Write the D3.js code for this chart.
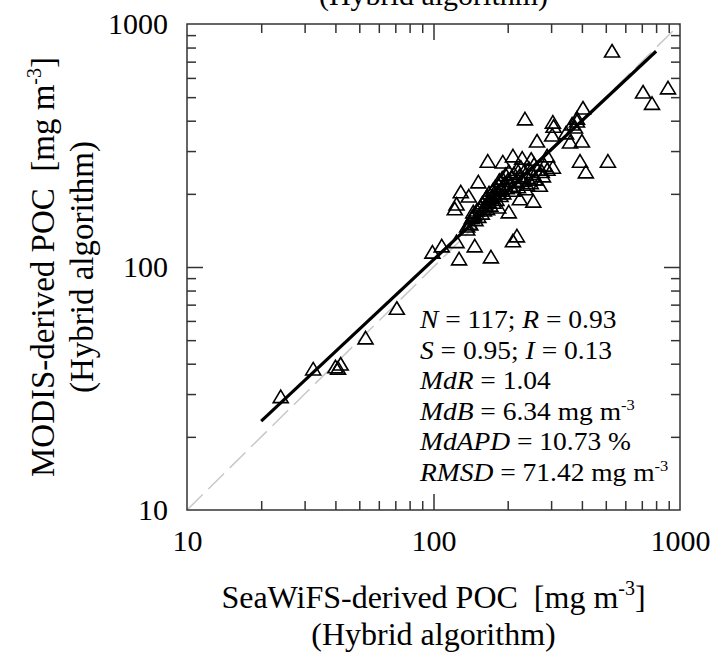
<!DOCTYPE html>
<html>
<head>
<meta charset="utf-8">
<script src="https://cdn.jsdelivr.net/npm/d3@7"></script>
<style>
  body { margin: 0; background: #fff; }
  svg { display: block; font-family: "Liberation Serif", "Times New Roman", serif; }
</style>
</head>
<body>
<svg id="chart" width="717" height="653"></svg>
<script>
// SeaWiFS (x) vs MODIS (y) POC, mg m^-3
const seawifs = [
  24, 32.5, 40, 42, 41, 53, 71,
  99, 108, 124, 147, 127, 171, 166, 152, 129, 139, 124, 122, 165, 137, 145, 145, 141, 137,
  235, 305, 307, 382, 404, 375, 263, 303, 358, 400, 345, 393, 415, 510, 770, 530, 708, 894, 382, 365,
  191, 210, 229, 249, 289, 305, 278, 258, 239, 224, 254, 202, 183, 218, 210,
  140, 143, 146, 148, 150, 152, 155, 157, 158, 160, 162, 163, 165, 167, 168, 170, 172, 174, 175,
  177, 178, 180, 182, 184, 185, 187, 189, 190, 192, 194, 196, 198, 200, 202, 205, 207, 210, 212,
  215, 218, 220, 223, 226, 230, 233, 236, 240, 244, 248, 252, 256, 260, 265, 270, 275, 282, 290
];
const modis = [
  29, 37.7, 38.5, 39.5, 38, 50.6, 67,
  114, 121, 126, 121, 107, 109, 270, 222, 202, 194, 180, 172, 194, 146, 167, 161, 149, 142,
  403, 391, 376, 395, 447, 373, 327, 346, 324, 327, 353, 270, 244, 270, 467, 767, 520, 541, 406, 384,
  268, 284, 278, 275, 284, 255, 235, 228, 217, 189, 185, 167, 175, 133, 127,
  150, 158, 163, 155, 170, 160, 175, 165, 182, 170, 178, 190, 172, 185, 200, 178, 192, 205, 183,
  196, 212, 188, 200, 215, 225, 195, 208, 230, 200, 218, 238, 210, 225, 245, 215, 232, 205, 240,
  222, 250, 212, 235, 255, 225, 245, 208, 232, 252, 220, 240, 262, 228, 250, 215, 245, 260, 250
];

// regression: log10(y) = I + S * log10(x)
const fitSlope = 0.95;
const fitIntercept = 0.13;
const fitRange = [20, 800];

const majorTicks = [10, 100, 1000];
const minorTicks = [20, 30, 40, 50, 60, 70, 80, 90, 200, 300, 400, 500, 600, 700, 800, 900];

const statLines = [
  [["N", true], [" = 117; ", false], ["R", true], [" = 0.93", false]],
  [["S", true], [" = 0.95; ", false], ["I", true], [" = 0.13", false]],
  [["MdR", true], [" = 1.04", false]],
  [["MdB", true], [" = 6.34 mg m", false], ["-3", "sup"]],
  [["MdAPD", true], [" = 10.73 %", false]],
  [["RMSD", true], [" = 71.42 mg m", false], ["-3", "sup"]]
];

const plotL = 187, plotR = 680, plotT = 24, plotB = 510;
const svg = d3.select("#chart");

const x = d3.scaleLog().domain([10, 1000]).range([plotL, plotR]);
const y = d3.scaleLog().domain([10, 1000]).range([plotB, plotT]);

// 1:1 line
svg.append("line")
    .attr("x1", x(10)).attr("y1", y(10))
    .attr("x2", x(1000)).attr("y2", y(1000))
    .attr("stroke", "#c8c8c8")
    .attr("stroke-width", 1.5)
    .attr("stroke-dasharray", "22,8");

// regression line
const fit = v => Math.pow(10, fitIntercept) * Math.pow(v, fitSlope);
svg.append("line")
    .attr("x1", x(fitRange[0])).attr("y1", y(fit(fitRange[0])))
    .attr("x2", x(fitRange[1])).attr("y2", y(fit(fitRange[1])))
    .attr("stroke", "#000")
    .attr("stroke-width", 3.2);

// points
const tri = "M0,-7.5L7.5,5L-7.5,5Z";
svg.append("g").selectAll("path")
    .data(seawifs.map((d, i) => [d, modis[i]]))
    .join("path")
    .attr("d", tri)
    .attr("transform", d => `translate(${x(d[0])},${y(d[1])})`)
    .attr("fill", "none")
    .attr("stroke", "#000")
    .attr("stroke-width", 1.6);

// inward ticks on all four sides
function ticks(axisFn, scale, pos, vals, len) {
    svg.append("g")
        .attr("transform", pos)
        .call(axisFn(scale).tickValues(vals).tickSize(len).tickFormat(""))
        .call(g => g.select(".domain").remove())
        .call(g => g.selectAll("line").attr("stroke", "#333").attr("stroke-width", 1.5));
}
ticks(d3.axisBottom, x, `translate(0,${plotB})`, minorTicks, -9);
ticks(d3.axisBottom, x, `translate(0,${plotB})`, [100], -16);
ticks(d3.axisTop, x, `translate(0,${plotT})`, minorTicks, -9);
ticks(d3.axisTop, x, `translate(0,${plotT})`, [100], -16);
ticks(d3.axisLeft, y, `translate(${plotL},0)`, minorTicks, -9);
ticks(d3.axisLeft, y, `translate(${plotL},0)`, [100], -16);
ticks(d3.axisRight, y, `translate(${plotR},0)`, minorTicks, -9);
ticks(d3.axisRight, y, `translate(${plotR},0)`, [100], -16);

// frame
svg.append("rect")
    .attr("x", plotL).attr("y", plotT)
    .attr("width", plotR - plotL).attr("height", plotB - plotT)
    .attr("fill", "none")
    .attr("stroke", "#333")
    .attr("stroke-width", 1.5);

// tick labels
svg.append("g")
    .attr("transform", `translate(0,${plotB})`)
    .call(d3.axisBottom(x).tickValues(majorTicks).tickSize(0).tickPadding(20).tickFormat(d3.format("d")))
    .call(g => g.select(".domain").remove())
    .call(g => g.selectAll("text").attr("font-family", "Liberation Serif").attr("font-size", 30).attr("fill", "#000"));

svg.append("g")
    .attr("transform", `translate(${plotL},0)`)
    .call(d3.axisLeft(y).tickValues(majorTicks).tickSize(0).tickPadding(19).tickFormat(d3.format("d")))
    .call(g => g.select(".domain").remove())
    .call(g => g.selectAll("text").attr("font-family", "Liberation Serif").attr("font-size", 30).attr("fill", "#000"));

// axis titles
function unitTitle(g, label) {
    g.append("tspan").text(label + "\u00a0 [mg m");
    g.append("tspan").attr("font-size", 20).attr("dy", -13).text("-3");
    g.append("tspan").attr("dy", 13).text("]");
}

const xt = svg.append("text")
    .attr("x", (plotL + plotR) / 2).attr("y", 608)
    .attr("text-anchor", "middle").attr("font-size", 32);
unitTitle(xt, "SeaWiFS-derived POC");
svg.append("text")
    .attr("x", (plotL + plotR) / 2).attr("y", 645)
    .attr("text-anchor", "middle").attr("font-size", 32)
    .text("(Hybrid algorithm)");

const yt = svg.append("text")
    .attr("transform", "translate(54,267) rotate(-90)")
    .attr("text-anchor", "middle").attr("font-size", 33);
unitTitle(yt, "MODIS-derived POC");
svg.append("text")
    .attr("transform", "translate(93,267) rotate(-90)")
    .attr("text-anchor", "middle").attr("font-size", 33)
    .text("(Hybrid algorithm)");

// clipped title at the top edge
svg.append("text")
    .attr("x", (plotL + plotR) / 2).attr("y", 5)
    .attr("text-anchor", "middle").attr("font-size", 30)
    .text("(Hybrid algorithm)");

// statistics
statLines.forEach((parts, i) => {
    const t = svg.append("text")
        .attr("transform", `translate(420,${328 + i * 30.6}) scale(1.1,1)`)
        .attr("font-size", 25);
    parts.forEach(([s, kind]) => {
        if (kind === "sup") {
            t.append("tspan").attr("font-size", 15).attr("dy", -10).text(s);
        } else {
            t.append("tspan").attr("font-style", kind ? "italic" : "normal").text(s);
        }
    });
});
</script>
</body>
</html>
